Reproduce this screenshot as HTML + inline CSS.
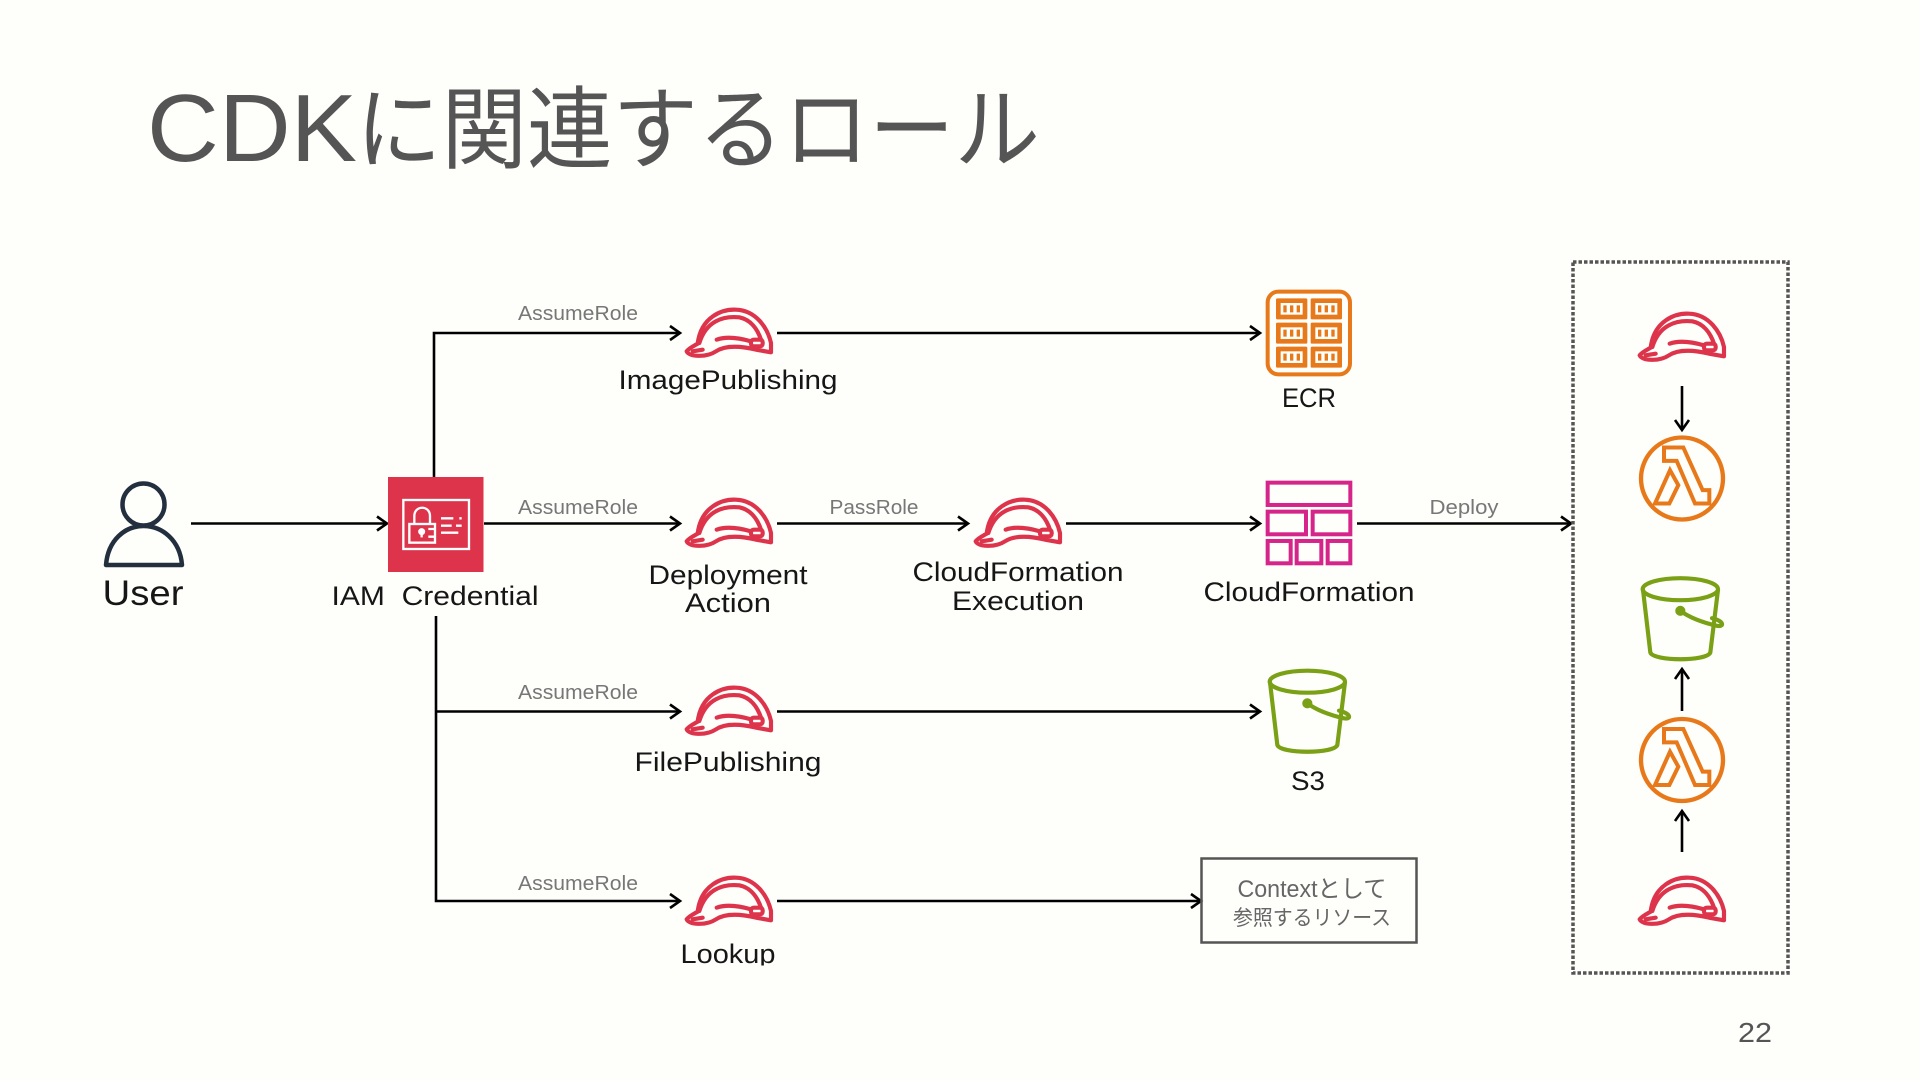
<!DOCTYPE html>
<html lang="ja">
<head>
<meta charset="utf-8">
<title>CDKに関連するロール</title>
<style>
html,body{margin:0;padding:0;background:#fefefb;width:1920px;height:1080px;overflow:hidden}
svg{display:block}
text{font-family:"Liberation Sans","Noto Sans CJK JP",sans-serif;text-anchor:middle}
.n{font-size:27px;fill:#161616}
.e{font-size:20px;fill:#777}
.ln{fill:none;stroke:#000;stroke-width:2.6}
</style>
</head>
<body>
<svg width="1920" height="1080" viewBox="0 0 1920 1080" xmlns="http://www.w3.org/2000/svg">
<defs>
<g id="helmet" fill="none" stroke="#dd344c" stroke-width="12.5" stroke-linejoin="round" stroke-linecap="round" transform="scale(.3333)">
 <path d="M2 130 C8 146 60 150 90 130 C120 110 170 115 210 125 L255 133 L255 105 C245 60 210 7 150 5 C110 3 45 25 35 107 C25 113 10 120 2 130 Z"/>
 <path d="M40 105 C60 40 110 23 160 28 C195 35 215 65 225 95"/>
 <path d="M92 95 C120 85 160 90 195 100"/>
 <rect x="195" y="95" width="35" height="20" rx="8"/>
 <path d="M20 130 L50 125"/>
</g>
<g id="lambda" fill="none" stroke="#e8791a" transform="scale(.3333)">
 <circle cx="0" cy="0" r="123" stroke-width="13"/>
 <path stroke-width="12" stroke-linejoin="miter" d="M-54 -93 L4 -93 L62 35 L82 35 L82 75 L39 75 L-16 -53 L-54 -53 Z"/>
 <path stroke-width="12" d="M-36 -25 L-11 20 L-38 75 L-81 75 Z"/>
</g>
<g id="bucket" fill="none" stroke="#7aa116" stroke-width="12.5" stroke-linejoin="round" stroke-linecap="round" transform="scale(.3333)">
 <ellipse cx="115" cy="38" rx="113" ry="33"/>
 <path d="M3 40 L25 228 C35 255 195 255 205 228 L228 40"/>
 <path d="M115 103 C145 125 190 140 225 148 C245 152 250 135 210 125"/>
 <circle cx="115" cy="103" r="9" fill="#7aa116"/>
</g>
</defs>

<text x="147" y="161" style="font-size:96px;fill:#555;text-anchor:start" textLength="210" lengthAdjust="spacingAndGlyphs">CDK</text>
<text x="356" y="161" style="font-size:90px;fill:#555;text-anchor:start" textLength="684" lengthAdjust="spacingAndGlyphs">に関連するロール</text>

<!-- connectors -->
<g class="ln">
 <path d="M434 477V333H680"/><path d="M670 326l10 7-10 7"/>
 <path d="M777 333H1260"/><path d="M1250 326l10 7-10 7"/>
 <path d="M191 523.5H387"/><path d="M377 516.5l10 7-10 7"/>
 <path d="M484 523.5H680"/><path d="M670 516.5l10 7-10 7"/>
 <path d="M777 523.5H968"/><path d="M958 516.5l10 7-10 7"/>
 <path d="M1066 523.5H1260"/><path d="M1250 516.5l10 7-10 7"/>
 <path d="M1357 523.5H1571"/><path d="M1561 516.5l10 7-10 7"/>
 <path d="M436 616V901H680"/><path d="M670 894l10 7-10 7"/>
 <path d="M436 711.5H680"/><path d="M670 704.5l10 7-10 7"/>
 <path d="M777 711.5H1260"/><path d="M1250 704.5l10 7-10 7"/>
 <path d="M777 901H1201"/><path d="M1191 894l10 7-10 7"/>
 <path d="M1682 386V430"/><path d="M1675 420l7 10 7-10"/>
 <path d="M1682 711V669"/><path d="M1675 679l7-10 7 10"/>
 <path d="M1682 852V811"/><path d="M1675 821l7-10 7 10"/>
</g>

<!-- user -->
<g fill="none" stroke="#232f3e" stroke-width="4.5" stroke-linejoin="round">
 <circle cx="143.5" cy="504.5" r="21"/>
 <path d="M106 565 C108 540 125 526 143.5 526 C162 526 180 540 182 565 Z"/>
</g>

<!-- IAM -->
<rect x="388" y="477" width="95.5" height="95" fill="#dd344c"/>
<g transform="translate(370 460) scale(.3333)" fill="none" stroke="#fff" stroke-width="7">
 <rect x="100" y="120" width="197" height="147"/>
 <path d="M133 190V168C133 135 180 135 180 168V190"/>
 <rect x="118" y="192" width="77" height="56"/>
 <circle cx="155" cy="215" r="7" fill="#fff"/>
 <path d="M155 215V232M175 207H195M175 230H195M213 175H250M268 175H275M213 197H245M258 197H275M213 218H265"/>
</g>

<!-- helmets -->
<use href="#helmet" transform="translate(686 308)"/>
<use href="#helmet" transform="translate(686 498)"/>
<use href="#helmet" transform="translate(975 498)"/>
<use href="#helmet" transform="translate(686 686)"/>
<use href="#helmet" transform="translate(686 876)"/>
<use href="#helmet" transform="translate(1639 312)"/>
<use href="#helmet" transform="translate(1639 876)"/>

<!-- ECR -->
<g transform="translate(1250 280) scale(.3333)">
 <rect x="53" y="35" width="247" height="248" rx="32" fill="none" stroke="#e8791a" stroke-width="12"/>
 <g id="c1">
  <rect x="78" y="55" width="94" height="63" rx="4" fill="#e8791a"/>
  <rect x="92" y="69" width="66" height="35" fill="#fefefb"/>
  <path d="M100 76h10v21h-10zM120 76h10v21h-10zM140 76h10v21h-10z" fill="#e8791a"/>
 </g>
 <use href="#c1" x="104"/>
 <use href="#c1" y="73"/>
 <use href="#c1" x="104" y="73"/>
 <use href="#c1" y="145"/>
 <use href="#c1" x="104" y="145"/>
</g>

<!-- CloudFormation -->
<g transform="translate(1250 280) scale(.3333)" fill="none" stroke="#d6258a" stroke-width="12">
 <rect x="53" y="608" width="248" height="67"/>
 <rect x="53" y="695" width="115" height="68"/>
 <rect x="188" y="695" width="113" height="68"/>
 <rect x="53" y="783" width="69" height="67"/>
 <rect x="140" y="783" width="74" height="67"/>
 <rect x="233" y="783" width="68" height="67"/>
</g>

<!-- S3 -->
<use href="#bucket" transform="translate(1269 669)"/>

<!-- context box -->
<rect x="1201.5" y="858.5" width="215" height="84" fill="none" stroke="#555" stroke-width="2.5"/>

<!-- dotted group -->
<rect x="1573" y="262" width="215" height="711" fill="none" stroke="#555" stroke-width="3.5" stroke-dasharray="3.5 2"/>
<use href="#lambda" transform="translate(1682 478.5)"/>
<use href="#lambda" transform="translate(1682 760)"/>
<use href="#bucket" transform="translate(1642 576.5)"/>

<!-- labels -->
<text class="e" x="578" y="320" textLength="120" lengthAdjust="spacingAndGlyphs">AssumeRole</text>
<text class="e" x="578" y="514" textLength="120" lengthAdjust="spacingAndGlyphs">AssumeRole</text>
<text class="e" x="578" y="699" textLength="120" lengthAdjust="spacingAndGlyphs">AssumeRole</text>
<text class="e" x="578" y="890" textLength="120" lengthAdjust="spacingAndGlyphs">AssumeRole</text>
<text class="e" x="874" y="514" textLength="89" lengthAdjust="spacingAndGlyphs">PassRole</text>
<text class="e" x="1464" y="514" textLength="69" lengthAdjust="spacingAndGlyphs">Deploy</text>

<text class="n" x="143" y="605" style="font-size:35px" textLength="81" lengthAdjust="spacingAndGlyphs">User</text>
<text class="n" x="435" y="605" style="white-space:pre" textLength="207" lengthAdjust="spacingAndGlyphs">IAM  Credential</text>
<text class="n" x="728" y="389" textLength="219" lengthAdjust="spacingAndGlyphs">ImagePublishing</text>
<text class="n" x="1309" y="407" textLength="54" lengthAdjust="spacingAndGlyphs">ECR</text>
<text class="n" x="728" y="584" textLength="159" lengthAdjust="spacingAndGlyphs">Deployment</text>
<text class="n" x="728" y="612" textLength="86" lengthAdjust="spacingAndGlyphs">Action</text>
<text class="n" x="1018" y="581" textLength="211" lengthAdjust="spacingAndGlyphs">CloudFormation</text>
<text class="n" x="1018" y="610" textLength="132" lengthAdjust="spacingAndGlyphs">Execution</text>
<text class="n" x="1309" y="601" textLength="211" lengthAdjust="spacingAndGlyphs">CloudFormation</text>
<text class="n" x="728" y="771" textLength="187" lengthAdjust="spacingAndGlyphs">FilePublishing</text>
<text class="n" x="1308" y="790" textLength="34" lengthAdjust="spacingAndGlyphs">S3</text>
<text class="n" x="728" y="963" textLength="95" lengthAdjust="spacingAndGlyphs">Lookup</text>
<rect x="670" y="965.5" width="120" height="10" fill="#fefefb"/>
<text x="1312" y="897" style="font-size:24px;fill:#666" textLength="149" lengthAdjust="spacingAndGlyphs">Contextとして</text>
<text x="1312" y="925" style="font-size:21px;fill:#666" textLength="158" lengthAdjust="spacingAndGlyphs">参照するリソース</text>
<text x="1755" y="1042" style="font-size:28px;fill:#555" textLength="34" lengthAdjust="spacingAndGlyphs">22</text>
</svg>
</body>
</html>
